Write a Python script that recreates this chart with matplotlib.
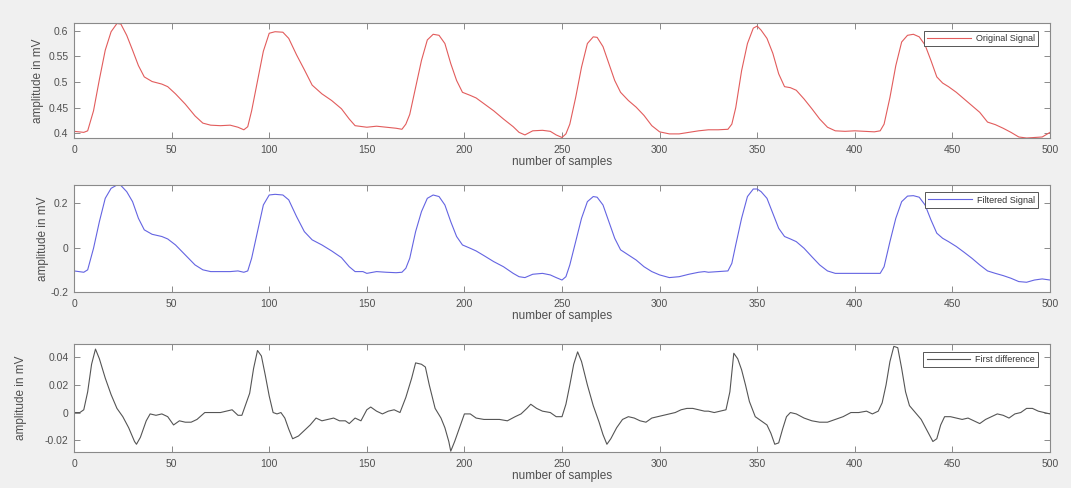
import numpy as np
import matplotlib
matplotlib.use("Agg")
import matplotlib.pyplot as plt
from matplotlib.ticker import FormatStrFormatter

plt.rcParams["font.family"] = ["Liberation Sans", "DejaVu Sans"]
plt.rcParams["axes.unicode_minus"] = False

# ── data ──────────────────────────────────────────────────────────────────────

orig_x = [0, 5, 7, 10, 13, 16, 19, 22, 24, 27, 30, 33, 36, 40, 45, 48, 52, 57, 62, 66,
          70, 75, 80, 84, 87, 89, 91, 94, 97, 100, 103, 107, 110, 114, 118, 122, 127, 132, 137, 141,
          144, 150, 155, 160, 165, 168, 170, 172, 175, 178, 181, 184, 187, 190, 193, 196, 199, 203, 206, 210,
          215, 220, 225, 228, 231, 235, 240, 244, 247, 250, 252, 254, 257, 260, 263, 266, 268, 271, 274, 277,
          280, 284, 288, 292, 296, 300, 305, 310, 315, 320, 325, 330, 335, 337, 339, 342, 345, 348, 350, 352,
          355, 358, 361, 364, 367, 370, 374, 378, 382, 386, 390, 395, 400, 405, 410, 413, 415, 418, 421, 424,
          427, 430, 433, 436, 439, 442, 445, 448, 452, 456, 460, 464, 468, 472, 476, 480, 484, 488, 492, 496, 500]
orig_y = [0.404, 0.402, 0.405, 0.444, 0.505, 0.562, 0.598, 0.614, 0.613, 0.591,
          0.562, 0.532, 0.510, 0.501, 0.496, 0.491, 0.477, 0.457, 0.434, 0.420,
          0.416, 0.415, 0.416, 0.412, 0.407, 0.413, 0.444, 0.502, 0.560, 0.595,
          0.598, 0.597, 0.585, 0.553, 0.524, 0.494, 0.477, 0.464, 0.448, 0.428,
          0.415, 0.412, 0.414, 0.412, 0.410, 0.408, 0.418, 0.437, 0.490, 0.542,
          0.582, 0.593, 0.591, 0.575, 0.536, 0.503, 0.480, 0.474, 0.469, 0.458,
          0.444, 0.428, 0.413, 0.402, 0.397, 0.405, 0.406, 0.404, 0.397, 0.392,
          0.399, 0.418, 0.470, 0.529, 0.575, 0.588, 0.587, 0.569, 0.536, 0.503,
          0.480, 0.464, 0.451, 0.435, 0.415, 0.403, 0.399, 0.399, 0.402, 0.405,
          0.407, 0.407, 0.408, 0.418, 0.450, 0.522, 0.575, 0.605, 0.609, 0.601,
          0.585, 0.556, 0.516, 0.491, 0.489, 0.484, 0.467, 0.448, 0.428, 0.412,
          0.405, 0.404, 0.405, 0.404, 0.403, 0.405, 0.418, 0.470, 0.532, 0.578,
          0.591, 0.593, 0.588, 0.572, 0.542, 0.510, 0.498, 0.491, 0.480, 0.467,
          0.454, 0.441, 0.422, 0.417, 0.410, 0.402, 0.393, 0.391, 0.392, 0.393, 0.402]

filt_x = [0, 5, 7, 10, 13, 16, 19, 22, 24, 27, 30, 33, 36, 40, 45, 48, 52, 57, 62, 66,
          70, 75, 80, 84, 87, 89, 91, 94, 97, 100, 103, 107, 110, 114, 118, 122, 127, 132, 137, 141,
          144, 148, 150, 155, 160, 165, 168, 170, 172, 175, 178, 181, 184, 187, 190, 193, 196, 199, 203, 206,
          210, 215, 220, 225, 228, 231, 235, 240, 244, 247, 250, 252, 254, 257, 260, 263, 266, 268, 271, 274,
          277, 280, 284, 288, 292, 296, 300, 305, 310, 315, 320, 323, 325, 330, 335, 337, 339, 342, 345, 348,
          350, 352, 355, 358, 361, 364, 367, 370, 374, 378, 382, 386, 390, 395, 400, 405, 410, 413, 415, 418,
          421, 424, 427, 430, 433, 436, 439, 442, 445, 448, 452, 456, 460, 464, 468, 472, 476, 480, 484, 488,
          492, 496, 500]
filt_y = [-0.105, -0.111, -0.100, -0.003, 0.117, 0.222, 0.267, 0.282, 0.280, 0.252,
          0.207, 0.132, 0.080, 0.060, 0.050, 0.039, 0.012, -0.033, -0.078, -0.100,
          -0.108, -0.108, -0.108, -0.105, -0.111, -0.105, -0.048, 0.072, 0.192, 0.237,
          0.240, 0.237, 0.215, 0.140, 0.072, 0.035, 0.012, -0.015, -0.045, -0.086,
          -0.108, -0.108, -0.116, -0.108, -0.111, -0.113, -0.111, -0.093, -0.048, 0.072,
          0.162, 0.222, 0.237, 0.230, 0.192, 0.117, 0.050, 0.012, -0.003, -0.015,
          -0.036, -0.063, -0.086, -0.116, -0.131, -0.135, -0.120, -0.116, -0.123, -0.135,
          -0.146, -0.131, -0.078, 0.027, 0.132, 0.207, 0.230, 0.227, 0.192, 0.117,
          0.042, -0.010, -0.033, -0.056, -0.086, -0.108, -0.123, -0.135, -0.131, -0.120,
          -0.111, -0.108, -0.111, -0.108, -0.105, -0.071, 0.012, 0.132, 0.230, 0.264,
          0.264, 0.252, 0.222, 0.155, 0.087, 0.050, 0.039, 0.027, -0.003, -0.041,
          -0.078, -0.105, -0.116, -0.116, -0.116, -0.116, -0.116, -0.116, -0.086, 0.027,
          0.132, 0.207, 0.232, 0.234, 0.227, 0.192, 0.125, 0.065, 0.042, 0.027,
          0.005, -0.021, -0.048, -0.078, -0.105, -0.116, -0.126, -0.138, -0.153, -0.156,
          -0.146, -0.141, -0.146]

diff_x = [0, 3, 5, 7, 9, 11, 13, 16, 19, 22, 25, 28, 31, 32, 34, 37, 39, 42, 45, 48,
          51, 54, 57, 60, 63, 67, 71, 75, 78, 81, 84, 86, 88, 90, 92, 94, 96, 98, 100, 102,
          104, 106, 108, 110, 112, 115, 118, 121, 124, 127, 130, 133, 136, 139, 141, 144,
          147, 150, 152, 155, 158, 161, 164, 167, 170, 173, 175, 178, 180, 182, 185, 188, 190, 192, 193, 195,
          198, 200, 203, 206, 210, 214, 218, 222, 226, 229, 232, 234, 237, 240, 244, 247, 250, 252, 254, 256,
          258, 260, 263, 266, 269, 271, 273, 275, 278, 281, 284, 287, 290, 293, 296, 299, 302, 305, 308, 311,
          314, 317, 320, 323,
          325, 328, 331, 334, 336, 338, 340, 342, 344, 346, 349, 352, 355, 357, 359, 361, 363, 365, 367, 370,
          374, 378, 382, 386, 390, 394, 398, 402, 406, 409, 412, 414, 416, 418, 420, 422, 424, 426, 428, 431,
          434, 437, 440, 442, 444, 446, 449, 452, 455, 458, 461, 464, 467, 470, 473, 476, 479, 482, 485, 488,
          491, 494, 497, 500]
diff_y = [0.000, 0.000, 0.002, 0.015, 0.035, 0.046, 0.039, 0.025, 0.013, 0.003,
          -0.003, -0.011, -0.021, -0.023, -0.018, -0.006, -0.001, -0.002, -0.001, -0.003,
          -0.009, -0.006, -0.007, -0.007, -0.005, 0.000, 0.000, 0.000, 0.001, 0.002,
          -0.002, -0.002, 0.006, 0.014, 0.032, 0.045, 0.041, 0.027, 0.012, 0.000,
          -0.001, 0.000, -0.004, -0.012, -0.019, -0.017, -0.013, -0.009, -0.004, -0.006,
          -0.005, -0.004, -0.006, -0.006, -0.008, -0.004,
          -0.006, 0.002, 0.004, 0.001, -0.001, 0.001, 0.002, 0.000, 0.011, 0.025,
          0.036, 0.035, 0.033, 0.020, 0.003, -0.004, -0.011, -0.021, -0.028, -0.021,
          -0.009, -0.001, -0.001, -0.004, -0.005, -0.005, -0.005, -0.006, -0.003, -0.001,
          0.003, 0.006, 0.003, 0.001, 0.000, -0.003, -0.003, 0.006, 0.020, 0.035,
          0.044, 0.037, 0.020, 0.005, -0.007, -0.016, -0.023, -0.019, -0.011, -0.005,
          -0.003, -0.004, -0.006, -0.007, -0.004, -0.003, -0.002, -0.001, 0.000, 0.002,
          0.003, 0.003, 0.002, 0.001,
          0.001, 0.000, 0.001, 0.002, 0.015, 0.043, 0.039, 0.031, 0.020, 0.008,
          -0.003, -0.006, -0.009, -0.015, -0.023, -0.022, -0.012, -0.003, 0.000, -0.001,
          -0.004, -0.006, -0.007, -0.007, -0.005, -0.003, 0.000, 0.000, 0.001, -0.001,
          0.001, 0.007, 0.020, 0.037, 0.048, 0.047, 0.032, 0.015, 0.005, 0.000,
          -0.005, -0.013, -0.021, -0.019, -0.009, -0.003, -0.003, -0.004, -0.005, -0.004,
          -0.006, -0.008, -0.005, -0.003, -0.001, -0.002, -0.004, -0.001, 0.000, 0.003,
          0.003, 0.001, 0.000, -0.001]

x_ticks = [0, 50, 100, 150, 200, 250, 300, 350, 400, 450, 500]
orig_ticks = [0.4, 0.45, 0.5, 0.55, 0.6]
filt_ticks = [-0.2, 0, 0.2]
diff_ticks = [-0.02, 0, 0.02, 0.04]

# ── figure ────────────────────────────────────────────────────────────────────

fig = plt.figure(figsize=(10.71, 4.88), dpi=100, facecolor="#f0f0f0")

positions = [
    [0.0691, 0.7172, 0.9113, 0.2357],
    [0.0691, 0.4016, 0.9113, 0.2193],
    [0.0691, 0.0738, 0.9113, 0.2213],
]

panels = [
    (orig_x, orig_y, "#e25c5c", "Original Signal", (0.391, 0.615), orig_ticks, 3),
    (filt_x, filt_y, "#6464e2", "Filtered Signal", (-0.2, 0.282), filt_ticks, 1),
    (diff_x, diff_y, "#555555", "First difference", (-0.0286, 0.0497), diff_ticks, 13),
]

for pos, (xs, ys, col, lab, ylim, yt, ypad) in zip(positions, panels):
    ax = fig.add_axes(pos)
    ax.plot(xs, ys, color=col, linewidth=0.8, label=lab)
    ax.set_xlim(0, 500)
    ax.set_ylim(*ylim)
    ax.set_xticks(x_ticks)
    ax.set_yticks(yt)
    ax.yaxis.set_major_formatter(FormatStrFormatter("%g"))

    for s in ax.spines.values():
        s.set_color("#8a8a8a")
        s.set_linewidth(0.8)
    ax.tick_params(direction="in", top=True, right=True, length=4, width=0.7,
                   color="#8a8a8a", labelcolor="#505050", labelsize=7.5)
    ax.tick_params(axis="x", pad=5)
    ax.tick_params(axis="y", pad=4)

    ax.set_xlabel("number of samples", fontsize=8.5, color="#505050", labelpad=1)
    ax.set_ylabel("amplitude in mV", fontsize=8.5, color="#505050", labelpad=ypad)

    leg = ax.legend(loc="upper right", bbox_to_anchor=(0.988, 0.93), fontsize=6.5,
                    handlelength=4.8, borderpad=0.35, borderaxespad=0.0,
                    fancybox=False, framealpha=1.0, handletextpad=0.6)
    leg.get_frame().set_edgecolor("#555555")
    leg.get_frame().set_linewidth(0.7)
    for t in leg.get_texts():
        t.set_color("#333333")

fig.savefig("out.png", dpi=100, facecolor=fig.get_facecolor())
